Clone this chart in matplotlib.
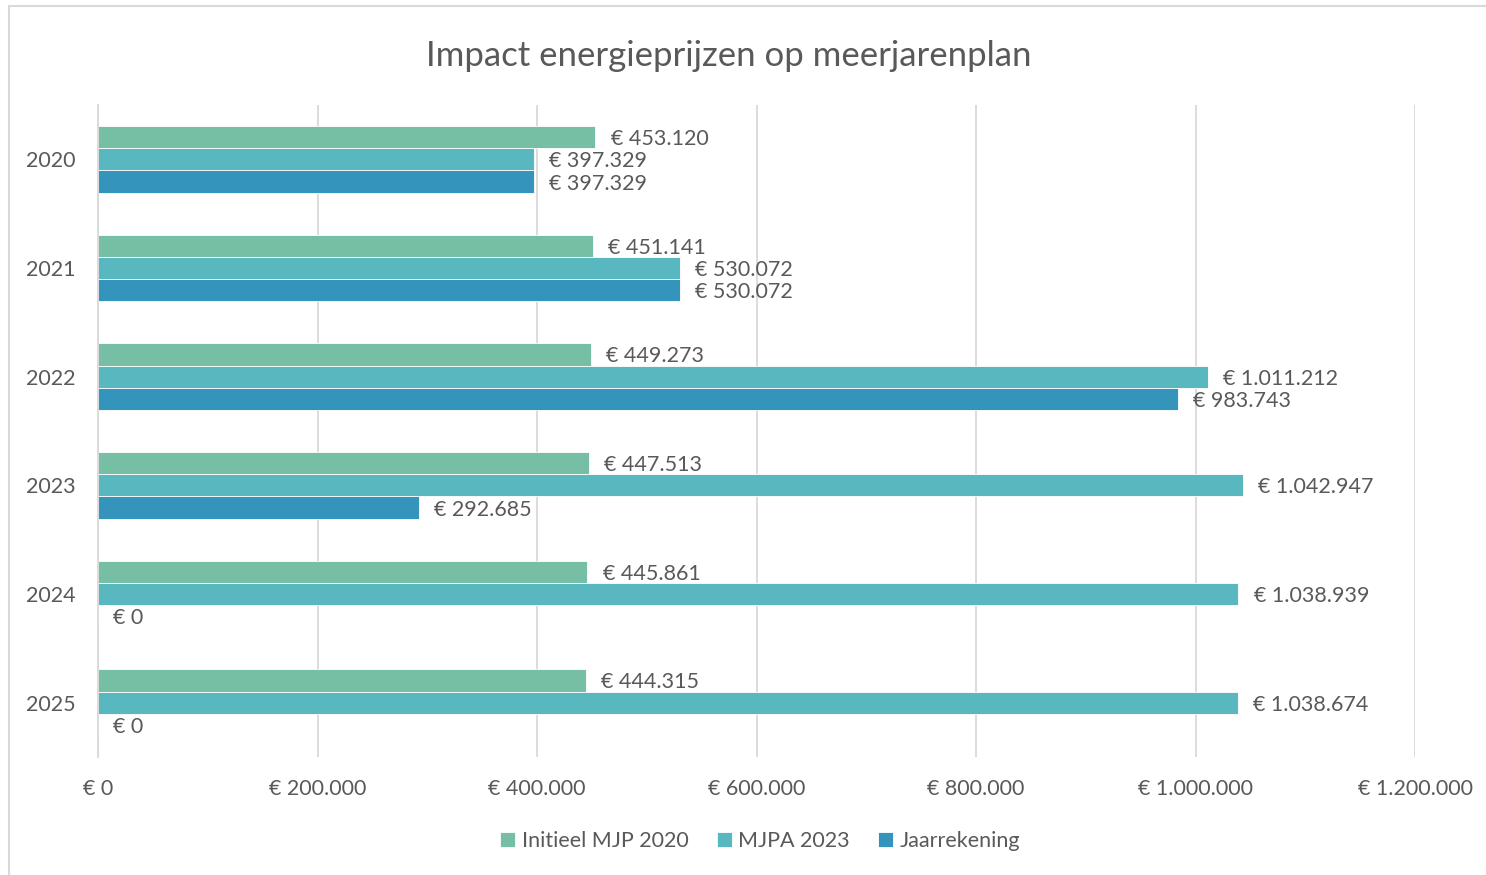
import matplotlib.pyplot as plt
from matplotlib.patches import Rectangle
import numpy as np

years = ['2020', '2021', '2022', '2023', '2024', '2025']
initieel = [453120, 451141, 449273, 447513, 445861, 444315]
mjpa = [397329, 530072, 1011212, 1042947, 1038939, 1038674]
jaarrekening = [397329, 530072, 983743, 292685, 0, 0]

series = [
    ('Initieel MJP 2020', initieel, '#76BFA5'),
    ('MJPA 2023', mjpa, '#59B7C0'),
    ('Jaarrekening', jaarrekening, '#3594BC'),
]

TEXT = '#595959'
GRID = '#D9D9D9'


def euro(v):
    return '€ ' + f'{v:,.0f}'.replace(',', '.')


plt.rcParams['font.family'] = ['Lato', 'DejaVu Sans']

fig = plt.figure(figsize=(14.86, 8.75), dpi=100)
ax = fig.add_axes([98 / 1486, 1 - 757 / 875, (1415 - 98) / 1486, (757 - 105) / 875])

y = np.arange(len(years))
h = 0.205
for i, (name, vals, col) in enumerate(series):
    bars = ax.barh(y + (i - 1) * h, vals, height=h, color=col, label=name,
                   edgecolor='white', linewidth=0.6)
    labels = ax.bar_label(bars, labels=[euro(v) for v in vals], padding=11,
                          fontsize=15.5, color=TEXT)
    for lab in labels:
        lab.xyann = (11, -1.5)

ax.set_xlim(0, 1200000)
ax.set_ylim(len(years) - 0.5, -0.5)
ticks = np.arange(0, 1200001, 200000)
ax.set_xticks(ticks)
ax.set_xticklabels([euro(t) for t in ticks])
ax.set_yticks(y)
ax.set_yticklabels(years)
ax.tick_params(axis='both', length=0, labelsize=15.5, labelcolor=TEXT)
ax.tick_params(axis='y', pad=16)
ax.tick_params(axis='x', pad=16)
ax.grid(axis='x', color=GRID, linewidth=1.3)
ax.set_axisbelow(True)
for s in ['top', 'right', 'bottom']:
    ax.spines[s].set_visible(False)
ax.spines['left'].set_color(GRID)
ax.spines['left'].set_linewidth(1.3)

fig.text(729 / 1486, 1 - 56 / 875, 'Impact energieprijzen op meerjarenplan',
         ha='center', va='center', fontsize=25, color=TEXT)

fig.legend(loc='center', bbox_to_anchor=(760 / 1486, 1 - 841 / 875), ncol=3,
           frameon=False, fontsize=15.5, labelcolor=TEXT, handlelength=0.7,
           handleheight=0.7, handletextpad=0.3, columnspacing=1.3)

fig.patches.append(Rectangle((9 / 1486, -0.1), 1.2, 1 - 6 / 875 + 0.1,
                             transform=fig.transFigure, fill=False,
                             edgecolor=GRID, linewidth=1.5))

fig.savefig('out.png', dpi=100)
